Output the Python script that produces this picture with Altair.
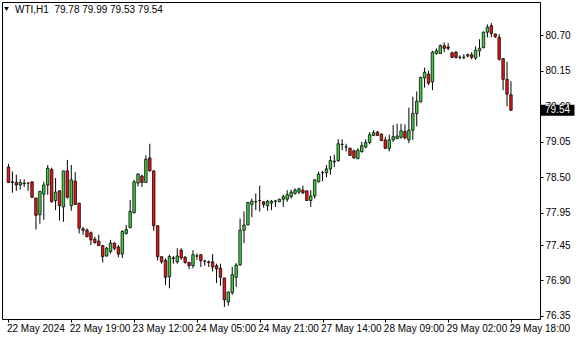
import json
import altair as alt
import pandas as pd

# ---- data (WTI, H1) ----
tick_labels = ["22 May 2024", "22 May 19:00", "23 May 12:00", "24 May 05:00", "24 May 21:00",
               "27 May 14:00", "28 May 09:00", "29 May 02:00", "29 May 18:00"]
tick_idx = [1, 17, 33, 49, 65, 81, 97, 113, 129]
yticks = [76.35, 76.90, 77.45, 77.95, 78.50, 79.05, 79.60, 80.15, 80.70]

opens = [78.66, 78.42, 78.42, 78.38, 78.40, 78.41, 78.43, 78.18, 77.92, 78.24,
         78.38, 78.62, 78.14, 78.29, 78.04, 78.60, 78.06, 78.44, 78.10, 77.70,
         77.68, 77.64, 77.54, 77.51, 77.44, 77.28, 77.35, 77.48, 77.42, 77.31,
         77.63, 77.72, 77.95, 78.41, 78.52, 78.42, 78.80, 78.60, 77.75, 77.27,
         77.21, 76.96, 77.25, 77.19, 77.37, 77.26, 77.18, 77.13, 77.28, 77.30,
         77.20, 77.19, 77.19, 77.13, 77.09, 76.94, 76.57, 76.71, 76.95, 77.14,
         77.68, 77.76, 78.08, 78.12, 78.14, 78.12, 78.06, 78.10, 78.13, 78.12,
         78.16, 78.16, 78.20, 78.25, 78.27, 78.30, 78.29, 78.14, 78.21, 78.43,
         78.57, 78.57, 78.63, 78.74, 78.76, 79.01, 78.97, 78.95, 78.91, 78.79,
         78.90, 78.97, 79.04, 79.15, 79.20, 79.17, 79.08, 78.95, 79.08, 79.10,
         79.12, 79.21, 79.08, 79.23, 79.49, 79.67, 80.04, 80.10, 79.98, 80.42,
         80.42, 80.54, 80.52, 80.43, 80.44, 80.36, 80.36, 80.38, 80.40, 80.35,
         80.46, 80.51, 80.75, 80.85, 80.72, 80.67, 80.34, 80.02, 79.78]
highs = [78.71, 78.59, 78.54, 78.47, 78.47, 78.42, 78.43, 78.18, 78.29, 78.43,
         78.69, 78.65, 78.49, 78.30, 78.60, 78.77, 78.69, 78.58, 78.10, 77.73,
         77.71, 77.66, 77.58, 77.61, 77.45, 77.42, 77.53, 77.49, 77.45, 77.68,
         77.76, 78.15, 78.46, 78.56, 78.54, 78.84, 79.02, 78.60, 77.75, 77.27,
         77.24, 77.30, 77.28, 77.40, 77.40, 77.28, 77.19, 77.37, 77.32, 77.31,
         77.22, 77.21, 77.31, 77.16, 77.16, 76.94, 76.73, 77.11, 77.17, 77.86,
         77.97, 78.12, 78.17, 78.25, 78.37, 78.13, 78.15, 78.15, 78.15, 78.17,
         78.23, 78.30, 78.31, 78.33, 78.34, 78.37, 78.29, 78.30, 78.47, 78.59,
         78.60, 78.69, 78.83, 78.85, 79.09, 79.09, 79.02, 78.96, 78.93, 78.95,
         79.05, 79.09, 79.20, 79.23, 79.22, 79.18, 79.13, 79.16, 79.31, 79.33,
         79.33, 79.32, 79.58, 79.75, 79.83, 80.06, 80.20, 80.15, 80.46, 80.50,
         80.56, 80.59, 80.58, 80.45, 80.46, 80.39, 80.41, 80.42, 80.44, 80.53,
         80.64, 80.76, 80.87, 80.89, 80.73, 80.72, 80.35, 80.29, 79.99]
lows = [78.41, 78.26, 78.29, 78.31, 78.35, 78.29, 78.18, 77.69, 77.78, 77.84,
        78.23, 78.11, 77.99, 77.83, 77.81, 78.17, 77.98, 78.07, 77.63, 77.61,
        77.57, 77.45, 77.47, 77.44, 77.18, 77.27, 77.32, 77.37, 77.26, 77.25,
        77.61, 77.71, 77.94, 78.36, 78.35, 78.42, 78.59, 77.67, 77.21, 77.16,
        76.83, 76.78, 77.16, 77.16, 77.22, 77.16, 77.08, 77.09, 77.22, 77.11,
        77.13, 77.11, 77.04, 76.86, 76.82, 76.49, 76.51, 76.68, 76.80, 77.13,
        77.48, 77.76, 77.88, 77.99, 77.97, 78.03, 77.98, 77.99, 78.04, 78.12,
        78.04, 78.12, 78.17, 78.23, 78.24, 78.24, 78.14, 78.04, 78.17, 78.42,
        78.44, 78.50, 78.54, 78.66, 78.74, 78.92, 78.90, 78.83, 78.79, 78.78,
        78.88, 78.95, 79.01, 79.14, 79.14, 79.06, 78.94, 78.90, 79.05, 79.09,
        79.10, 79.09, 79.03, 79.08, 79.29, 79.66, 79.89, 79.93, 79.85, 80.40,
        80.41, 80.44, 80.47, 80.35, 80.34, 80.33, 80.33, 80.36, 80.33, 80.32,
        80.37, 80.50, 80.67, 80.67, 80.66, 80.31, 79.85, 79.60, 79.53]
closes = [78.42, 78.43, 78.38, 78.42, 78.41, 78.41, 78.19, 77.91, 78.28, 78.38,
          78.64, 78.12, 78.27, 78.06, 78.60, 78.19, 78.46, 78.08, 77.71, 77.68,
          77.58, 77.53, 77.49, 77.44, 77.27, 77.40, 77.48, 77.40, 77.31, 77.66,
          77.69, 77.97, 78.43, 78.55, 78.42, 78.78, 78.60, 77.75, 77.27, 77.19,
          76.95, 77.27, 77.24, 77.28, 77.25, 77.18, 77.13, 77.30, 77.28, 77.21,
          77.20, 77.18, 77.11, 77.08, 76.95, 76.60, 76.72, 76.99, 77.14, 77.68,
          77.76, 78.11, 78.13, 78.12, 78.14, 78.08, 78.13, 78.13, 78.13, 78.16,
          78.20, 78.23, 78.27, 78.30, 78.32, 78.26, 78.14, 78.21, 78.46, 78.55,
          78.57, 78.63, 78.76, 78.75, 79.02, 79.01, 78.97, 78.84, 78.80, 78.92,
          78.99, 79.04, 79.16, 79.19, 79.15, 79.07, 78.95, 79.08, 79.13, 79.14,
          79.22, 79.11, 79.23, 79.49, 79.68, 80.05, 80.13, 79.96, 80.44, 80.46,
          80.54, 80.50, 80.50, 80.36, 80.36, 80.36, 80.36, 80.40, 80.36, 80.47,
          80.50, 80.75, 80.83, 80.73, 80.68, 80.33, 80.02, 79.79, 79.54]

FONT = "Liberation Sans"
GREEN = "#40D040"
RED = "#EE1515"

n = len(opens)
df = pd.DataFrame({"i": list(range(1, n + 1)), "open": opens, "high": highs,
                   "low": lows, "close": closes})
df["dir"] = ["up" if c > o else ("down" if c < o else "flat") for o, c in zip(opens, closes)]

xscale = alt.Scale(domain=[0.625, 135.125], nice=False, zero=False)
yscale = alt.Scale(domain=[76.303, 81.218], nice=False, zero=False)

label_expr = json.dumps(tick_labels) + "[round((datum.value - 1) / 16)]"

xaxis = alt.Axis(values=tick_idx, labelExpr=label_expr, orient="bottom", domain=False,
                 grid=False, ticks=True, tickSize=3, tickColor="black", labelAlign="left",
                 labelBaseline="top", labelPadding=1, labelOffset=-2, labelFont=FONT,
                 labelFontSize=10, labelColor="black", labelFlush=False, labelOverlap=False,
                 title=None)
yaxis = alt.Axis(values=yticks, format=".2f", orient="right", domain=False, grid=False,
                 ticks=True, tickSize=3, tickColor="black", labelPadding=2, labelFont=FONT,
                 labelFontSize=10, labelColor="black", labelOverlap=False, labelFlush=False,
                 labelSeparation=0, title=None)

base = alt.Chart(df)
wicks = base.mark_rule(color="black", strokeWidth=1).encode(
    x=alt.X("i:Q", scale=xscale, axis=xaxis),
    y=alt.Y("low:Q", scale=yscale, axis=yaxis),
    y2="high:Q",
)
bodies = base.mark_bar(width=2.5, stroke="black", strokeWidth=0.75, opacity=1).encode(
    x=alt.X("i:Q", scale=xscale, axis=xaxis),
    y=alt.Y("open:Q", scale=yscale, axis=yaxis),
    y2="close:Q",
    fill=alt.Fill("dir:N", scale=alt.Scale(domain=["up", "down", "flat"],
                                           range=[GREEN, RED, "black"]), legend=None),
)

last = pd.DataFrame({"p": [closes[-1]], "t": [f"{closes[-1]:.2f}"]})
box = alt.Chart(last).mark_point(shape="M-1,-0.32H1V0.32H-1Z", size=1156, filled=True,
                                 color="black", opacity=1, strokeWidth=0).encode(
    x=alt.value(555.5), y=alt.Y("p:Q", scale=yscale, axis=yaxis))
boxtext = alt.Chart(last).mark_text(color="white", font=FONT, fontSize=10, align="center",
                                    baseline="middle").encode(
    x=alt.value(555.5), y=alt.Y("p:Q", scale=yscale, axis=yaxis), text="t:N")

header = "WTI,H1\u00a0\u00a0{:.2f} {:.2f} {:.2f} {:.2f}".format(opens[-1], highs[-1], lows[-1], closes[-1])
hdr = alt.Chart(pd.DataFrame({"t": [header]})).mark_text(
    align="left", baseline="middle", font=FONT, fontSize=10, color="black").encode(
    x=alt.value(13), y=alt.value(8), text="t:N")
tri = alt.Chart(pd.DataFrame({"a": [0]})).mark_point(
    shape="triangle-down", size=22, filled=True, color="black", opacity=1).encode(
    x=alt.value(4.5), y=alt.value(7))

chart = alt.layer(wicks, bodies, box, boxtext, hdr, tri).properties(
    width=538, height=317,
    padding={"left": 2, "top": 2, "right": 40, "bottom": 21},
    autosize="none", background="white",
).configure_view(stroke="black", strokeWidth=1).configure_axis(labelOverlap=False)

chart.save("out.html", embed_options={"renderer": "svg", "actions": False})
